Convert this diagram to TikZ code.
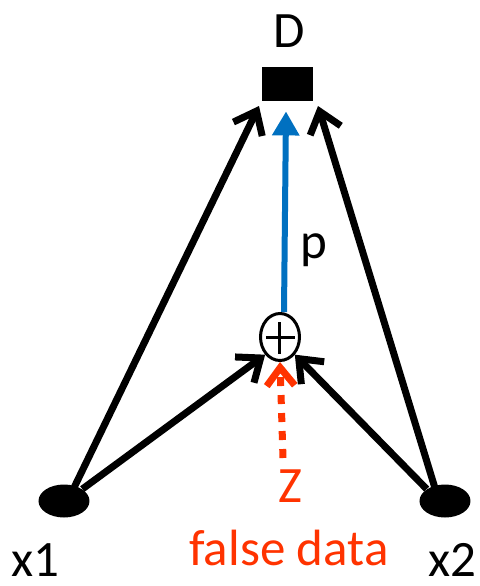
\documentclass[tikz,border=0pt]{standalone}
\usepackage{fontspec}
\setmainfont{Carlito}
\usetikzlibrary{arrows.meta,shapes.geometric,calc}
\definecolor{zred}{RGB}{255,51,0}
\definecolor{pblue}{RGB}{0,112,192}
\begin{document}
\begin{tikzpicture}[x=0.5pt,y=-0.5pt,
  lbl/.style={font=\fontsize{25.5}{30}\selectfont, inner sep=0pt},
  blk/.style={line width=3.5pt, -{Straight Barb[length=10pt,width=16pt,line width=3.5pt]}},
  sum/.style={ellipse, draw, line width=1.5pt, minimum width=19.5pt, minimum height=23.5pt, inner sep=0pt}]
\useasboundingbox (0,0) rectangle (480,586);
\node[lbl] (Dl) at (289,31) {D};
\node[fill=black, minimum width=25.5pt, minimum height=17pt, inner sep=0pt] (D) at (288,84) {};
\node[sum] (S) at (280,337) {};
\draw[line width=1.5pt] ($(S.center)+(0,-15)$) -- ($(S.center)+(0,17)$) ($(S.center)+(-14,0)$) -- ($(S.center)+(15,0)$);
\node[ellipse, fill=black, minimum width=25.5pt, minimum height=16.5pt, inner sep=0pt] (x1) at (64,501) {};
\node[ellipse, fill=black, minimum width=25.5pt, minimum height=16.5pt, inner sep=0pt] (x2) at (445,501) {};
\node[lbl] (x1l) at (35,560) {x1};
\node[lbl] (x2l) at (452,560) {x2};
\node[lbl, text=zred] (Z) at (290,486) {Z};
\node[lbl, text=zred] (fd) at (289,548) {false data};
\node[lbl] (p) at (314,250) {p};
\coordinate (Dbl) at (259,106);
\coordinate (Dbr) at (318,106);
\coordinate (zs) at (283,458);
\draw[blk] ($(x1.north east)+(-8,-2)$) -- (Dbl);
\draw[blk] ($(x2.north west)+(8,-2)$) -- (Dbr);
\draw[blk] (x1.north east) -- (S.south west);
\draw[blk] (x2.north west) -- (S.south east);
\draw[pblue, line width=3pt, -{Triangle[length=12pt,width=13pt]}] ($(S.north)+(4,0)$) -- ($(D.south)+(-2,10)$);
\draw[zred, line width=3.5pt, dash pattern=on 4.5pt off 4.5pt, -{Straight Barb[length=9pt,width=14pt,line width=3.5pt]}] (zs) -- (S.south);
\end{tikzpicture}
\end{document}
